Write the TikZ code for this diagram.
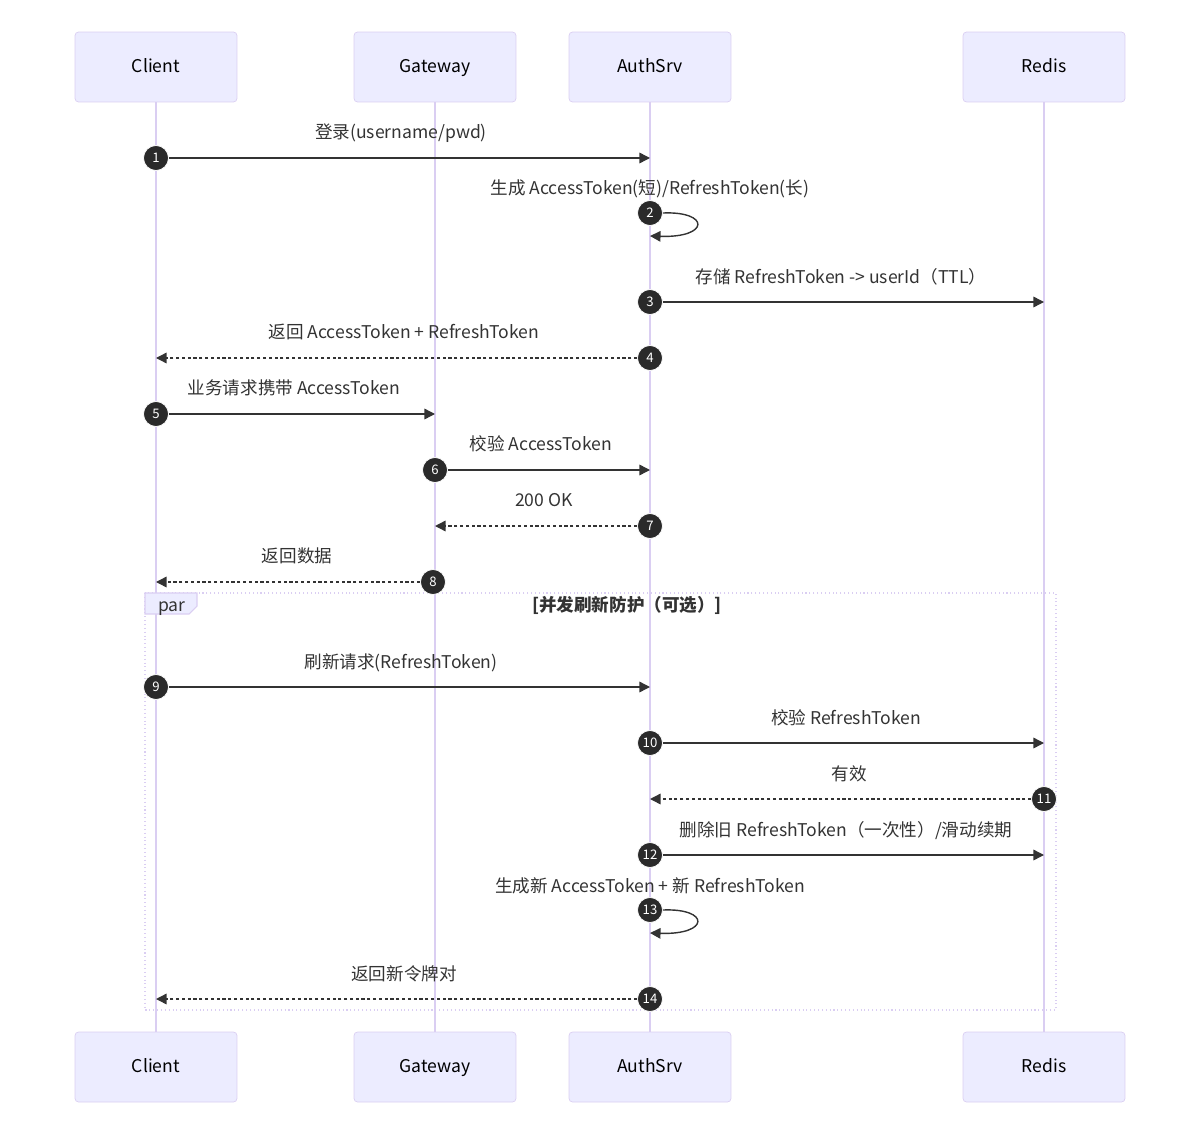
\documentclass[tikz,border=0pt]{standalone}
\usepackage{fontspec}
\setmainfont{Noto Sans CJK SC}
\usetikzlibrary{arrows.meta}
\definecolor{actfill}{HTML}{ECECFF}
\definecolor{actline}{HTML}{DACEF2}
\definecolor{ink}{HTML}{333333}
\definecolor{dot}{HTML}{2A2A2A}
\tikzset{
  actor/.style={draw=actline,fill=actfill,rounded corners=2pt,minimum width=3.24cm,minimum height=1.4cm,text=black,font=\fontsize{10}{12}\selectfont,text height=1.6ex,text depth=.4ex},
  life/.style={draw=actline,line width=1pt},
  msg/.style={draw=ink,line width=.8pt,-{Triangle[length=6pt,width=6pt]}},
  reply/.style={msg,dash pattern=on 1.8pt off 1.5pt},
  lbl/.style={text=ink,font=\fontsize{10}{12}\selectfont,inner sep=1pt,text height=1.6ex,text depth=.4ex},
  numdot/.style={circle,fill=dot,draw=white,line width=.4pt,text=white,minimum size=.5cm,inner sep=0pt,font=\fontsize{7.5}{8}\selectfont}
}
\newcommand{\num}[3]{\node[numdot] (n#3) at (#1,#2){#3};}

\begin{document}
\begin{tikzpicture}[x=.02cm,y=-.02cm]
\useasboundingbox (0,0) rectangle (1200,1135);
% participants
\node[actor] (cT) at (156,67){Client};\node[actor] (cB) at (156,1067){Client};
\node[actor] (gT) at (435,67){Gateway};\node[actor] (gB) at (435,1067){Gateway};
\node[actor] (aT) at (650,67){AuthSrv};\node[actor] (aB) at (650,1067){AuthSrv};
\node[actor] (rT) at (1044,67){Redis};\node[actor] (rB) at (1044,1067){Redis};
\foreach \p in {c,g,a,r} \draw[life] (\p T.south) -- (\p B.north);
% par block
\draw[actline,line width=.8pt,dash pattern=on .6pt off 1.6pt] (145,593) rectangle (1056,1010);
\draw[actline,fill=actfill,line width=.6pt] (145,593) -- (197,593) -- (197,606) -- (189,614) -- (145,614) -- cycle;
\node[lbl,anchor=west] (parT) at (156,606){par};
\node[lbl,font=\fontsize{10}{12}\selectfont\bfseries] (parC) at (627,606){[并发刷新防护（可选）]};
% 1
\num{156}{158}{1}\coordinate (e1) at (650,158);\draw[msg] (n1) -- (e1);
\node[lbl] (t1) at (401,133){登录(username/pwd)};
% 2
\num{650}{213}{2}\coordinate (e2) at (650,236);\draw[msg] (n2.east) .. controls (710,211) and (710,238) .. (e2);
\node[lbl] (t2) at (650,189){生成 AccessToken(短)/RefreshToken(长)};
% 3
\num{650}{302}{3}\coordinate (e3) at (1044,302);\draw[msg] (n3) -- (e3);
\node[lbl] (t3) at (841,278){存储 RefreshToken -> userId（TTL）};
% 4
\num{650}{358}{4}\coordinate (e4) at (156,358);\draw[reply] (n4) -- (e4);
\node[lbl] (t4) at (404,333){返回 AccessToken + RefreshToken};
% 5
\num{156}{414}{5}\coordinate (e5) at (435,414);\draw[msg] (n5) -- (e5);
\node[lbl] (t5) at (294,389){业务请求携带 AccessToken};
% 6
\num{435}{470}{6}\coordinate (e6) at (650,470);\draw[msg] (n6) -- (e6);
\node[lbl] (t6) at (541,445){校验 AccessToken};
% 7
\num{650}{526}{7}\coordinate (e7) at (435,526);\draw[reply] (n7) -- (e7);
\node[lbl] (t7) at (544,501){200 OK};
% 8
\num{433}{582}{8}\coordinate (e8) at (156,582);\draw[reply] (n8) -- (e8);
\node[lbl] (t8) at (297,557){返回数据};
% 9
\num{156}{687}{9}\coordinate (e9) at (650,687);\draw[msg] (n9) -- (e9);
\node[lbl] (t9) at (401,663){刷新请求(RefreshToken)};
% 10
\num{650}{743}{10}\coordinate (e10) at (1044,743);\draw[msg] (n10) -- (e10);
\node[lbl] (t10) at (846,719){校验 RefreshToken};
% 11
\num{1044}{799}{11}\coordinate (e11) at (650,799);\draw[reply] (n11) -- (e11);
\node[lbl] (t11) at (849,775){有效};
% 12
\num{650}{855}{12}\coordinate (e12) at (1044,855);\draw[msg] (n12) -- (e12);
\node[lbl] (t12) at (846,831){删除旧 RefreshToken（一次性）/滑动续期};
% 13
\num{650}{910}{13}\coordinate (e13) at (650,933);\draw[msg] (n13.east) .. controls (710,908) and (710,935) .. (e13);
\node[lbl] (t13) at (650,887){生成新 AccessToken + 新 RefreshToken};
% 14
\num{650}{999}{14}\coordinate (e14) at (156,999);\draw[reply] (n14) -- (e14);
\node[lbl] (t14) at (404,975){返回新令牌对};
\end{tikzpicture}
\end{document}
